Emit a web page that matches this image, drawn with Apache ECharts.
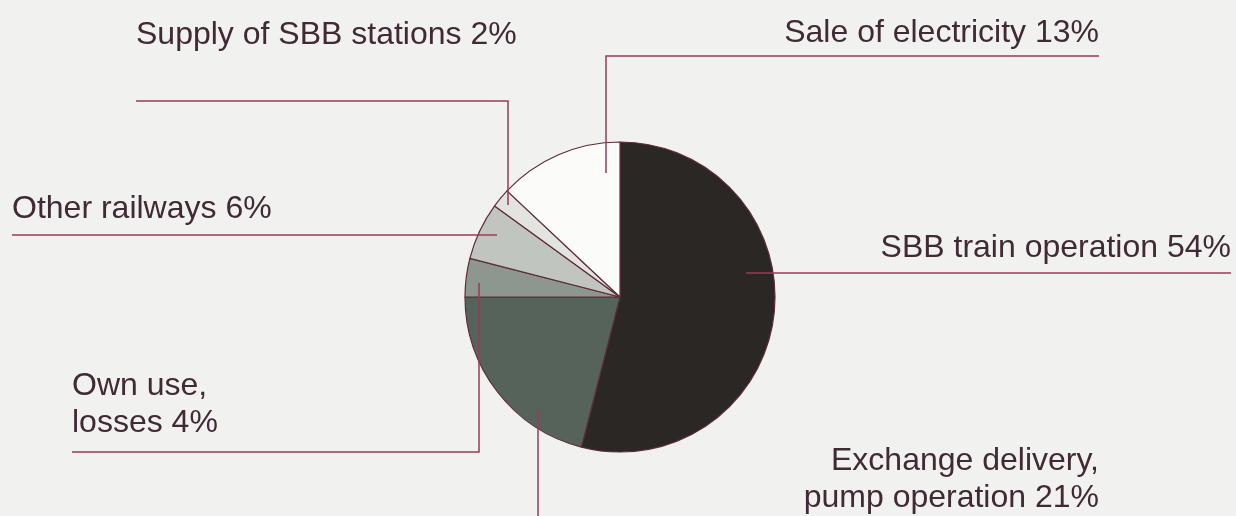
<!DOCTYPE html>
<html>
<head>
<meta charset="utf-8">
<script src="https://cdn.jsdelivr.net/npm/echarts@6/dist/echarts.min.js"></script>
<style>
  html, body { margin: 0; padding: 0; background: #f1f1ef; }
  #chart { width: 1236px; height: 516px; }
</style>
</head>
<body>
<div id="chart"></div>
<script>
// ---- data ----
const categories = [
  'SBB train operation',
  'Exchange delivery,\npump operation',
  'Own use,\nlosses',
  'Other railways',
  'Supply of SBB stations',
  'Sale of electricity'
];
const shares = [54, 21, 4, 6, 2, 13];

// ---- styles ----
const sliceColors = ['#2b2725', '#56635a', '#8d978f', '#c1c5c0', '#e2e4e0', '#fbfbf9'];

// ---- label placement (layout only) ----
const labelLayouts = [
  { x: 1231, y: 248, align: 'right', line: [[746, 273], [1231, 273]] },
  { x: 1099, y: 480, align: 'right', line: [[538, 410], [538, 520]] },
  { x: 72,   y: 405, align: 'left',  line: [[479, 283], [479, 452], [72, 452]] },
  { x: 12,   y: 209, align: 'left',  line: [[497, 235], [12, 235]] },
  { x: 136,  y: 35,  align: 'left',  line: [[508, 205], [508, 101], [136, 101]] },
  { x: 1099, y: 33,  align: 'right', line: [[606, 173], [606, 56], [1099, 56]] }
];

const pieBase = {
  type: 'pie',
  center: [620, 297],
  radius: 155,
  startAngle: 90,
  clockwise: true,
  avoidLabelOverlap: false,
  silent: true
};

const chart = echarts.init(document.getElementById('chart'));
chart.setOption({
  backgroundColor: '#f1f1ef',
  animation: false,
  series: [
    Object.assign({}, pieBase, {
      name: 'slices',
      z: 2,
      itemStyle: { borderColor: '#5e2a3a', borderWidth: 1.2 },
      label: { show: false },
      labelLine: { show: false },
      data: categories.map((name, i) => ({
        name: name,
        value: shares[i],
        itemStyle: { color: sliceColors[i] }
      }))
    }),
    Object.assign({}, pieBase, {
      name: 'labels',
      z: 5,
      zlevel: 1,
      itemStyle: { color: 'rgba(0,0,0,0)', borderWidth: 0 },
      label: {
        show: true,
        position: 'outside',
        formatter: p => p.name + ' ' + p.value + '%',
        fontFamily: 'Liberation Sans',
        fontSize: 32,
        lineHeight: 37,
        color: '#3f2a35'
      },
      labelLine: {
        show: true,
        showAbove: true,
        smooth: false,
        lineStyle: { color: '#983a5c', width: 1.5 }
      },
      labelLayout: function (params) {
        const L = labelLayouts[params.dataIndex];
        return {
          x: L.x,
          y: L.y,
          align: L.align,
          verticalAlign: 'middle',
          labelLinePoints: L.line
        };
      },
      data: categories.map((name, i) => ({ name: name, value: shares[i] }))
    })
  ]
});
</script>
</body>
</html>
